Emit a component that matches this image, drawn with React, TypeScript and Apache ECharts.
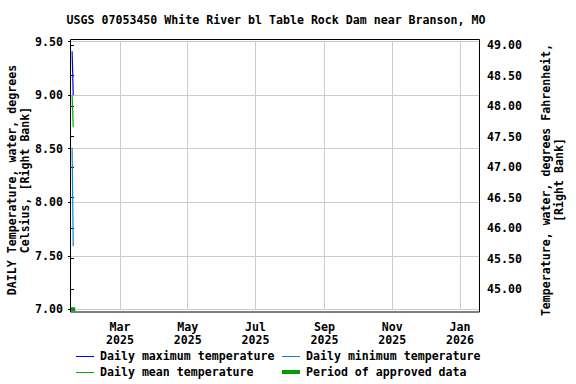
import React, { useEffect, useRef } from "react";
import * as echarts from "echarts";

const TITLE = "USGS 07053450 White River bl Table Rock Dam near Branson, MO";
const LEFT_NAME = ["DAILY Temperature, water, degrees", "Celsius, [Right Bank]"];
const RIGHT_NAME = ["Temperature, water, degrees Fahrenheit,", "[Right Bank]"];

const dates = ["2025-01-17", "2025-01-18"];
const maxTemp = [9.41, 9.0];
const meanTemp = [9.0, 8.7];
const minTemp = [8.51, 7.59];
const approvedLevel = [7.0, 7.0];

const xTickDates = ["2025-03-01", "2025-05-01", "2025-07-01", "2025-09-01", "2025-11-01", "2026-01-01"];
const monthNames = ["Jan", "Feb", "Mar", "Apr", "May", "Jun", "Jul", "Aug", "Sep", "Oct", "Nov", "Dec"];

const legendItems = [
  { name: "Daily maximum temperature", color: "#0000ff", width: 1 },
  { name: "Daily minimum temperature", color: "#0a88d8", width: 1 },
  { name: "Daily mean temperature", color: "#00b000", width: 1 },
  { name: "Period of approved data", color: "#009e00", width: 4 },
];

function ts(s: string): number {
  const [y, m, d] = s.split("-").map(Number);
  return new Date(y, m - 1, d).getTime();
}

const FONT = "DejaVu Sans Mono";
const FS = 11.6;

export default function App() {
  const ref = useRef<HTMLDivElement>(null);
  useEffect(() => {
    if (!ref.current) return;
    const chart = echarts.init(ref.current, null, { renderer: "svg" });
    const toPairs = (vals: number[]) => dates.map((d, i) => [ts(d), vals[i]]);
    const textStyle = { fontFamily: FONT, fontSize: FS, fontWeight: "bold" as const, color: "#000" };
    const font = `bold ${FS}px "${FONT}"`;

    const legendGraphics: any[] = [];
    const cols = [76, 282];
    const rows = [356, 372];
    legendItems.forEach((it, i) => {
      const cx = cols[i % 2];
      const cy = rows[Math.floor(i / 2)];
      const ly = it.width % 2 === 1 ? cy + 0.5 : cy;
      legendGraphics.push({
        type: "line",
        shape: { x1: cx, y1: ly, x2: cx + 18, y2: ly },
        style: { stroke: it.color, lineWidth: it.width },
      });
      legendGraphics.push({
        type: "text",
        x: cx + 24,
        y: cy,
        style: { text: it.name, font, fill: "#000", verticalAlign: "middle", align: "left" },
      });
    });

    chart.setOption({
      animation: false,
      grid: [
        { left: 71, right: 96, top: 41.7, bottom: 74.7, containLabel: false },
        { left: 71, right: 96, top: 45, bottom: 95, containLabel: false },
      ],
      xAxis: [
        {
          type: "value",
          gridIndex: 0,
          min: ts("2025-01-16"),
          max: ts("2026-01-19"),
          axisLine: { show: false },
          axisTick: { show: false, customValues: xTickDates.map(ts) },
          splitLine: { show: true, lineStyle: { color: "#cccccc", width: 1 } },
          axisLabel: {
            customValues: xTickDates.map(ts),
            margin: 11,
            lineHeight: 13,
            ...textStyle,
            formatter: (v: number) => {
              const d = new Date(v);
              return monthNames[d.getMonth()] + "\n" + d.getFullYear();
            },
          },
        },
        { type: "value", gridIndex: 1, show: false, min: 0, max: 1 },
      ],
      yAxis: [
        {
          type: "value",
          gridIndex: 0,
          min: 7,
          max: 9.5,
          interval: 0.5,
          axisLine: { show: false },
          axisTick: { show: true, length: 3, lineStyle: { color: "#000" } },
          splitLine: { show: true, lineStyle: { color: "#cccccc", width: 1 } },
          axisLabel: { ...textStyle, margin: 8, formatter: (v: number) => v.toFixed(2) },
        },
        {
          type: "value",
          gridIndex: 1,
          position: "right",
          min: 45,
          max: 49,
          interval: 0.5,
          axisLine: { show: false },
          axisTick: { show: true, length: 3, lineStyle: { color: "#000" } },
          splitLine: { show: false },
          axisLabel: { ...textStyle, margin: 7, formatter: (v: number) => v.toFixed(2) },
        },
      ],
      series: [
        {
          name: "Daily maximum temperature",
          type: "line",
          data: toPairs(maxTemp),
          symbol: "none",
          lineStyle: { color: legendItems[0].color, width: 1.2 },
        },
        {
          name: "Daily minimum temperature",
          type: "line",
          data: toPairs(minTemp),
          symbol: "none",
          lineStyle: { color: legendItems[1].color, width: 1.2 },
        },
        {
          name: "Daily mean temperature",
          type: "line",
          data: toPairs(meanTemp),
          symbol: "none",
          lineStyle: { color: legendItems[2].color, width: 1.2 },
        },
        {
          name: "Period of approved data",
          type: "line",
          data: toPairs(approvedLevel),
          symbol: "none",
          lineStyle: { color: legendItems[3].color, width: 4, cap: "square" },
        },
      ],
      graphic: [
        {
          type: "text",
          x: 276,
          y: 20,
          style: { text: TITLE, font, fill: "#000", align: "center", verticalAlign: "middle" },
        },
        {
          type: "rect",
          shape: { x: 70.5, y: 39.5, width: 409, height: 272.5 },
          style: { fill: "none", stroke: "#000", lineWidth: 1 },
          z: 100,
        },
        {
          type: "text",
          x: 18,
          y: 180,
          rotation: Math.PI / 2,
          style: {
            text: LEFT_NAME.join("\n"),
            font,
            fill: "#000",
            align: "center",
            verticalAlign: "middle",
            lineHeight: 13,
          },
        },
        {
          type: "text",
          x: 552,
          y: 180,
          rotation: Math.PI / 2,
          style: {
            text: RIGHT_NAME.join("\n"),
            font,
            fill: "#000",
            align: "center",
            verticalAlign: "middle",
            lineHeight: 13,
          },
        },
        ...legendGraphics,
      ],
    });
    return () => chart.dispose();
  }, []);
  return <div ref={ref} style={{ width: 576, height: 384, position: "absolute", left: 0, top: 0 }} />;
}
